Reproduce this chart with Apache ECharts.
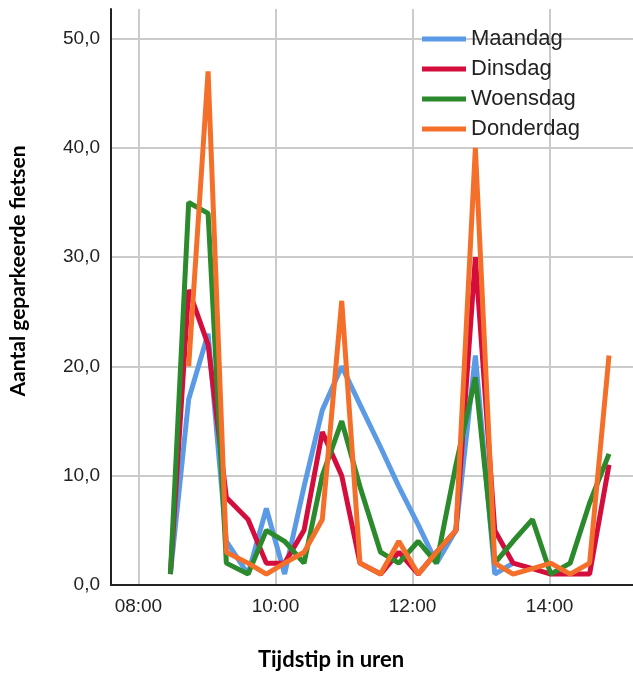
<!DOCTYPE html>
<html>
<head>
<meta charset="utf-8">
<script src="https://cdn.jsdelivr.net/npm/echarts@6/dist/echarts.min.js"></script>
<style>
  html, body { margin: 0; padding: 0; background: #ffffff; }
  #chart { width: 633px; height: 674px; }
</style>
</head>
<body>
<div id="chart"></div>
<script>
// Meetmomenten (kloktijd) en aantallen geparkeerde fietsen per dag
const tijdstippen = ['08:28','08:44','09:01','09:17','09:36','09:52','10:08','10:25',
                     '10:41','10:58','11:14','11:32','11:48','12:05','12:21','12:38',
                     '12:55','13:12','13:28','13:45','14:01','14:18','14:35','14:52'];

const maandag   = [1, 17, 23, 4, 1, 7, 1, 9, 16, 20, 16.5, 12.6, 9, 5.5, 2, 5, 21, 1, 2, null, null, null, null, null];
const dinsdag   = [1, 27, 22, 8, 6, 2, 2, 5, 14, 10, 2, 1, 3, 1, 3, 5, 30, 5, 2, 1.5, 1, 1, 1, 11];
const woensdag  = [1, 35, 34, 2, 1, 5, 4, 2, 10, 15, 9, 3, 2, 4, 2, 11, 19, 2, 4, 6, 1, 2, 7.5, 12];
const donderdag = [null, 20, 47, 3, 2, 1, 2, 3, 6, 26, 2, 1, 4, 1, 3, 5, 40, 2, 1, 1.5, 2, 1, 2, 21];

const dagen = ['Maandag', 'Dinsdag', 'Woensdag', 'Donderdag'];
const reeksen = [maandag, dinsdag, woensdag, donderdag];
const kleuren = ['#5b9be6', '#d40d3c', '#2b8a2b', '#f4702a'];

const xTicks = ['08:00', '10:00', '12:00', '14:00'];
const yTicks = [0, 10, 20, 30, 40, 50];

const naarMinuten = t => { const [h, m] = t.split(':').map(Number); return h * 60 + m; };
const pad = n => String(n).padStart(2, '0');
const alsKlok = v => pad(Math.floor(v / 60)) + ':' + pad(Math.round(v % 60));

const gridKleur = '#cbcbcb';
const asKleur = '#222222';
const fontTekst = '"Liberation Sans", Arial, sans-serif';
const fontTitel = 'Lato, "Open Sans", sans-serif';

const chart = echarts.init(document.getElementById('chart'));

chart.setOption({
  animation: false,
  backgroundColor: '#ffffff',
  grid: { left: 111, right: 0, top: 9, bottom: 89 },
  legend: {
    data: dagen,
    orient: 'vertical',
    left: 422,
    top: 28,
    padding: 0,
    icon: 'rect',
    itemWidth: 44,
    itemHeight: 5,
    itemGap: 8,
    textStyle: { fontSize: 22, color: '#222', fontFamily: fontTekst }
  },
  xAxis: {
    type: 'value',
    min: 456,
    max: 913,
    axisLine: { show: true, onZero: false, lineStyle: { color: asKleur, width: 2 } },
    axisTick: { show: false, customValues: xTicks.map(naarMinuten) },
    axisLabel: {
      customValues: xTicks.map(naarMinuten),
      formatter: v => alsKlok(v),
      fontSize: 19, color: '#222', fontFamily: fontTekst, margin: 12
    },
    splitLine: { show: true, lineStyle: { color: gridKleur, width: 2 } }
  },
  yAxis: {
    type: 'value',
    min: 0,
    max: 52.7,
    axisLine: { show: true, lineStyle: { color: asKleur, width: 2 } },
    axisTick: { show: false, customValues: yTicks },
    axisLabel: {
      customValues: yTicks,
      formatter: v => v.toFixed(1).replace('.', ','),
      fontSize: 19, color: '#222', fontFamily: fontTekst, margin: 11
    },
    splitLine: { show: true, lineStyle: { color: gridKleur, width: 2 } }
  },
  series: dagen.map((naam, i) => ({
    name: naam,
    type: 'line',
    showSymbol: false,
    symbol: 'none',
    data: tijdstippen.map((t, j) => [naarMinuten(t), reeksen[i][j]]),
    itemStyle: { color: kleuren[i] },
    lineStyle: { color: kleuren[i], width: 5 }
  })),
  graphic: [
    {
      type: 'text',
      x: 331, y: 660,
      style: {
        text: 'Tijdstip in uren',
        x: 0, y: 0,
        align: 'center', verticalAlign: 'middle',
        font: 'bold 22px ' + fontTitel,
        fill: '#000'
      }
    },
    {
      type: 'text',
      x: 18, y: 271,
      rotation: Math.PI / 2,
      style: {
        text: 'Aantal geparkeerde fietsen',
        x: 0, y: 0,
        align: 'center', verticalAlign: 'middle',
        font: 'bold 21px ' + fontTitel,
        fill: '#000'
      }
    }
  ]
});
</script>
</body>
</html>
